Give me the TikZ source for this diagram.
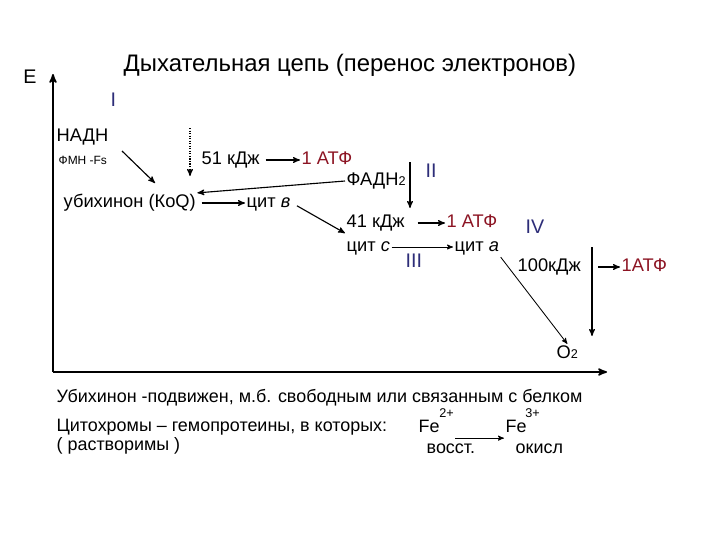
\documentclass[tikz,border=0pt]{standalone}
\usepackage{fontspec}
\setmainfont{Liberation Sans}
\usetikzlibrary{arrows,positioning}
\definecolor{atfred}{RGB}{140,20,35}
\definecolor{romanblue}{RGB}{45,45,120}
\tikzset{
>=stealth',
  txt/.style={inner sep=1pt, anchor=west, text height=9.5pt, text depth=2.5pt, font=\fontsize{13}{15}\selectfont},
  atf/.style={txt, text=atfred},
  roman/.style={txt, text=romanblue, font=\fontsize{14}{16}\selectfont},
  small/.style={txt, text height=6.5pt, text depth=1.5pt, font=\fontsize{8.5}{10}\selectfont},
  tiny/.style={inner sep=0pt, anchor=west, font=\fontsize{9}{10}\selectfont},
  note/.style={txt, font=\fontsize{12.75}{15}\selectfont},
  myarrow/.style={draw, ->, thick},
  thinarrow/.style={draw, ->, semithick},
  axis/.style={draw, ->, line width=1.2pt},
}
\newcommand{\lowsub}[1]{{\fontsize{9}{10}\selectfont #1}}
\begin{document}
\begin{tikzpicture}[x=0.025cm, y=-0.025cm]
      \useasboundingbox (0,0) rectangle (720,540);

      % title and axes
      \node[txt, text height=12pt, text depth=3.5pt, font=\fontsize{17}{20}\selectfont] (title) at (122,66) {Дыхательная цепь (перенос электронов)};
      \node[txt, anchor=center, font=\fontsize{14}{16}\selectfont] (E) at (30,79) {Е};
      \coordinate (origin) at (53,372);
      \coordinate (ytop) at (53,74);
      \coordinate (xend) at (607,372);
      \path[axis] (origin) -- (ytop);
      \path[axis] (origin) -- (xend);

      % complex I
      \node[roman] (cI) at (109,102) {I};
      \node[txt] (nadh) at (55,137) {НАДН};
      \node[small] (fmn) at (57,161) {ФМН -Fs};
      \node[txt] (ubq) at (62,203) {убихинон (КоQ)};
      \coordinate (AuxNode01) at (122,151);
      \coordinate (AuxNode02) at (155,183);
      \coordinate (AuxNode03) at (190,128);
      \coordinate (AuxNode04) at (190,176);
      \path[myarrow] (AuxNode01) -- (AuxNode02);
      \path[myarrow, densely dotted] (AuxNode03) -- (AuxNode04);
      \node[txt] (kj51) at (200,160) {51 кДж};
      \node[atf] (atf1) at (300,160) {1 АТФ};
      \path[myarrow, shorten <=3pt] (kj51.east) -- (atf1.west);

      % complex II
      \node[txt] (fadh) at (345,181) {ФАДН\lowsub{2}};
      \path[myarrow] (fadh.west) -- (ubq.north east);
      \node[txt] (citb) at (245,203) {цит \textit{в}};
      \path[myarrow, shorten <=3pt] (ubq.east) -- (citb.west);
      \coordinate (AuxNode05) at (410,162);
      \coordinate (AuxNode06) at (410,208);
      \path[myarrow] (AuxNode05) -- (AuxNode06);
      \node[roman] (cII) at (424,173) {II};

      % complex III
      \node[txt] (kj41) at (345,223) {41 кДж};
      \node[atf] (atf2) at (445,223) {1 АТФ};
      \path[myarrow, shorten <=4pt] (citb.east) -- (kj41.south west);
      \path[myarrow, shorten <=8pt] (kj41.east) -- (atf2.west);
      \node[txt] (citc) at (345,247) {цит \textit{с}};
      \node[txt] (cita) at (453,247) {цит \textit{а}};
      \path[thinarrow] (citc.east) -- (cita.west);
      \node[roman] (cIII) at (404,263) {III};

      % complex IV
      \node[roman] (cIV) at (524,229) {IV};
      \node[txt] (kj100) at (516,267) {100кДж};
      \node[txt] (o2) at (555,354) {O\lowsub{2}};
      \path[thinarrow] (cita.south east) -- (o2.north);
      \coordinate (AuxNode07) at (592,247);
      \coordinate (AuxNode08) at (592,336);
      \coordinate (AuxNode09) at (598,267);
      \path[myarrow] (AuxNode07) -- (AuxNode08);
      \node[atf] (atf3) at (620,267) {1АТФ};
      \path[myarrow] (AuxNode09) -- (atf3.west);

      % notes
      \node[note] (note1) at (55,398) {Убихинон -подвижен, м.б. свободным или связанным с белком};
      \node[note] (note2) at (55,427) {Цитохромы – гемопротеины, в которых:};
      \node[note] (note3) at (55,446) {( растворимы )};
      \node[note] (fe2) at (417,428) {Fe};
      \node[tiny] (ch2) at (439,413) {2+};
      \node[note] (fe3) at (504,428) {Fe};
      \node[tiny] (ch3) at (525,413) {3+};
      \path[thinarrow, shorten <=10pt] (fe2.south east) -- (fe3.south west);
      \node[note] (vosst) at (425,449) {восст.};
      \node[note] (okisl) at (514,449) {окисл};
\end{tikzpicture}
\end{document}
